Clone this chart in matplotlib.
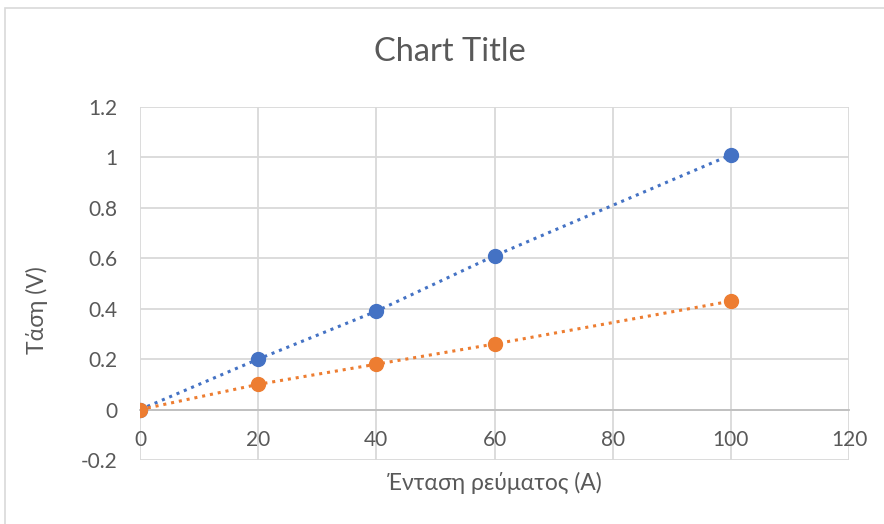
import numpy as np
import matplotlib
matplotlib.use("Agg")
import matplotlib.pyplot as plt
from matplotlib.patches import Rectangle

plt.rcParams['font.family'] = ['Lato', 'Noto Sans', 'DejaVu Sans']

current_a = [0, 20, 40, 60, 100]
voltage_blue = [0, 0.2, 0.39, 0.61, 1.01]
voltage_orange = [0, 0.1, 0.18, 0.26, 0.43]

x_ticks = [0, 20, 40, 60, 80, 100, 120]
y_ticks = [-0.2, 0, 0.2, 0.4, 0.6, 0.8, 1, 1.2]
y_labels = ["-0.2", "0", "0.2", "0.4", "0.6", "0.8", "1", "1.2"]

TXT = "#595959"
GRID = "#D9D9D9"

fig = plt.figure(figsize=(8.84, 5.24), dpi=100)
ax = fig.add_axes([140 / 884, 1 - 460 / 524, 709 / 884, 353 / 524])

# chart border
fig.patches.append(Rectangle((5 / 884, -0.1), 1.2, 1 - 8 / 524 + 0.1,
                             transform=fig.transFigure, fill=False,
                             edgecolor="#D9D9D9", lw=1.2))

ax.plot(current_a, voltage_blue, ls=(0, (1, 1.6)), lw=2.2, color="#4472C4",
        marker="o", ms=10, zorder=3)
ax.plot(current_a, voltage_orange, ls=(0, (1, 1.6)), lw=2.2, color="#ED7D31",
        marker="o", ms=10, zorder=3)

ax.set_xlim(0, 120)
ax.set_ylim(-0.2, 1.2)
ax.set_xticks(x_ticks)
ax.set_yticks(y_ticks)
ax.set_yticklabels(y_labels)
ax.grid(True, color=GRID, lw=1.3)
ax.set_axisbelow(True)

for s in ["top", "right", "left"]:
    ax.spines[s].set_visible(False)
ax.spines["bottom"].set_position(("data", 0))
ax.spines["bottom"].set_color("#BFBFBF")
ax.spines["bottom"].set_linewidth(1.3)

ax.tick_params(length=0, labelsize=15, labelcolor=TXT)
ax.tick_params(axis="x", pad=15)
ax.tick_params(axis="y", pad=16)

fig.text(450 / 884, 1 - 52 / 524, "Chart Title", fontsize=23.5, color=TXT,
         ha="center", va="center")
fig.text(494 / 884, 1 - 483 / 524, "Ένταση ρεύματος (A)", fontsize=16.5,
         color=TXT, ha="center", va="center")
fig.text(37 / 884, 1 - 310 / 524, "Τάση (V)", fontsize=16.5, color=TXT,
         ha="center", va="center", rotation=90)

fig.savefig("out.png", dpi=100)
